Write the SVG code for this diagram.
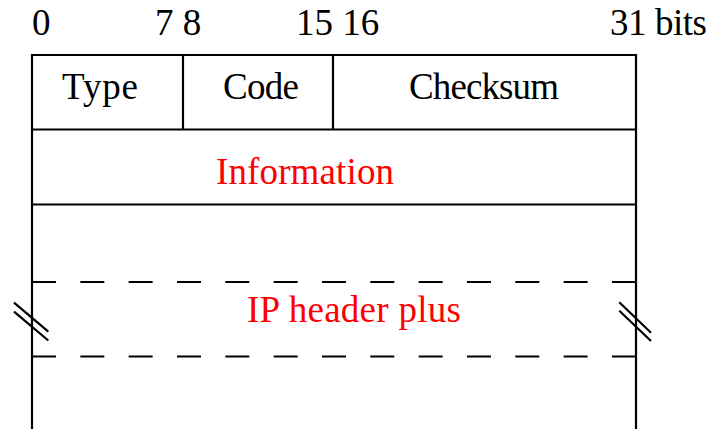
<svg xmlns="http://www.w3.org/2000/svg" width="713" height="429" viewBox="0 0 713 429">
<style>
  .ln { stroke: #000; stroke-width: 2.2; fill: none; }
  .dash { stroke: #000; stroke-width: 2.2; fill: none; stroke-dasharray: 24 24.33; }
  .t { font-family: "Liberation Serif", "Times New Roman", serif; font-size: 37px; fill: #000; }
  .r { fill: #ff0000; }
</style>
<rect width="713" height="429" fill="#fff"/>
<g id="bit-labels">
  <text class="t" x="32" y="35">0</text>
  <text class="t" x="155" y="35">7 8</text>
  <text class="t" x="296" y="35">15 16</text>
  <text class="t" x="610" y="35" textLength="97" lengthAdjust="spacing">31 bits</text>
</g>
<g id="frame">
  <path class="ln" d="M32,429 V55 H636 V429"/>
  <path class="ln" d="M32,129.5 H636 M32,204.5 H636 M183,55 V129.5 M333,55 V129.5"/>
</g>
<g id="type"><text class="t" x="62" y="99" textLength="76" lengthAdjust="spacing">Type</text></g>
<g id="code"><text class="t" x="223" y="99" textLength="76" lengthAdjust="spacing">Code</text></g>
<g id="checksum"><text class="t" x="409" y="99" textLength="150" lengthAdjust="spacing">Checksum</text></g>
<g id="information"><text class="t r" x="216" y="184" textLength="178" lengthAdjust="spacing">Information</text></g>
<g id="ip-header">
  <path class="dash" d="M32,282 H636 M32,356.5 H636"/>
  <text class="t r" x="247" y="322" textLength="214" lengthAdjust="spacing">IP header plus</text>
</g>
<g id="breaks">
  <path class="ln" d="M14,302.7 L48.3,331.7 M14,311.7 L48.3,340.5"/>
  <path class="ln" d="M619.3,302.3 L651,332.7 M619.3,310.7 L651,341"/>
</g>
</svg>
